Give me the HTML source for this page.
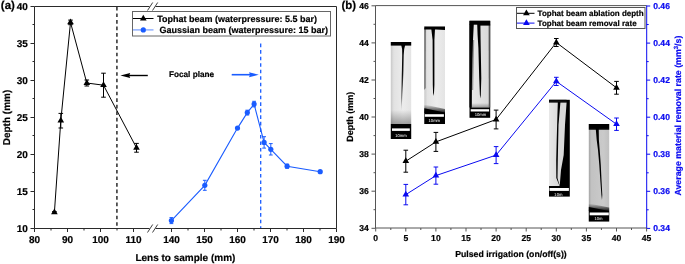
<!DOCTYPE html>
<html><head><meta charset="utf-8"><style>
html,body{margin:0;padding:0;background:#fff;width:685px;height:264px;overflow:hidden}
text{stroke:#000;stroke-width:0.2px}
text.bl{stroke:#0a0af0}
text.w{stroke:none}
</style></head><body>
<svg width="685" height="264" viewBox="0 0 685 264" style="position:absolute;left:0;top:0;will-change:transform"><g font-family='"Liberation Sans", sans-serif' font-weight="bold" text-rendering="geometricPrecision"><path d="M34.5 6.5H149.5M155.5 6.5H336.5V228.5H155.5M149.5 228.5H34.5V6.5" fill="none" stroke="#2a2a2a" stroke-width="1"/><line x1="147.5" y1="10.5" x2="152.7" y2="2.5" stroke="#2a2a2a" stroke-width="0.9"/><line x1="152.5" y1="10.5" x2="157.7" y2="2.5" stroke="#2a2a2a" stroke-width="0.9"/><line x1="147.5" y1="232.5" x2="152.7" y2="224.5" stroke="#2a2a2a" stroke-width="0.9"/><line x1="152.5" y1="232.5" x2="157.7" y2="224.5" stroke="#2a2a2a" stroke-width="0.9"/><line x1="30.5" y1="228.5" x2="34.5" y2="228.5" stroke="#2a2a2a"/><text x="27.8" y="231.7" font-size="10" text-anchor="end">10</text><line x1="30.5" y1="191.5" x2="34.5" y2="191.5" stroke="#2a2a2a"/><text x="27.8" y="194.7" font-size="10" text-anchor="end">15</text><line x1="30.5" y1="154.5" x2="34.5" y2="154.5" stroke="#2a2a2a"/><text x="27.8" y="157.7" font-size="10" text-anchor="end">20</text><line x1="30.5" y1="117.5" x2="34.5" y2="117.5" stroke="#2a2a2a"/><text x="27.8" y="120.7" font-size="10" text-anchor="end">25</text><line x1="30.5" y1="80.5" x2="34.5" y2="80.5" stroke="#2a2a2a"/><text x="27.8" y="83.7" font-size="10" text-anchor="end">30</text><line x1="30.5" y1="43.5" x2="34.5" y2="43.5" stroke="#2a2a2a"/><text x="27.8" y="46.7" font-size="10" text-anchor="end">35</text><line x1="30.5" y1="6.5" x2="34.5" y2="6.5" stroke="#2a2a2a"/><text x="27.8" y="9.7" font-size="10" text-anchor="end">40</text><line x1="32.5" y1="209.5" x2="34.5" y2="209.5" stroke="#2a2a2a"/><line x1="32.5" y1="172.5" x2="34.5" y2="172.5" stroke="#2a2a2a"/><line x1="32.5" y1="135.5" x2="34.5" y2="135.5" stroke="#2a2a2a"/><line x1="32.5" y1="98.5" x2="34.5" y2="98.5" stroke="#2a2a2a"/><line x1="32.5" y1="61.5" x2="34.5" y2="61.5" stroke="#2a2a2a"/><line x1="32.5" y1="24.5" x2="34.5" y2="24.5" stroke="#2a2a2a"/><line x1="34.5" y1="228.5" x2="34.5" y2="232.0" stroke="#2a2a2a"/><text x="34.5" y="242.8" font-size="10" text-anchor="middle">80</text><line x1="67.5" y1="228.5" x2="67.5" y2="232.0" stroke="#2a2a2a"/><text x="67.5" y="242.8" font-size="10" text-anchor="middle">90</text><line x1="100.5" y1="228.5" x2="100.5" y2="232.0" stroke="#2a2a2a"/><text x="100.5" y="242.8" font-size="10" text-anchor="middle">100</text><line x1="133.5" y1="228.5" x2="133.5" y2="232.0" stroke="#2a2a2a"/><text x="133.5" y="242.8" font-size="10" text-anchor="middle">110</text><line x1="171.5" y1="228.5" x2="171.5" y2="232.0" stroke="#2a2a2a"/><text x="171.5" y="242.8" font-size="10" text-anchor="middle">140</text><line x1="204.5" y1="228.5" x2="204.5" y2="232.0" stroke="#2a2a2a"/><text x="204.5" y="242.8" font-size="10" text-anchor="middle">150</text><line x1="237.5" y1="228.5" x2="237.5" y2="232.0" stroke="#2a2a2a"/><text x="237.5" y="242.8" font-size="10" text-anchor="middle">160</text><line x1="270.5" y1="228.5" x2="270.5" y2="232.0" stroke="#2a2a2a"/><text x="270.5" y="242.8" font-size="10" text-anchor="middle">170</text><line x1="303.5" y1="228.5" x2="303.5" y2="232.0" stroke="#2a2a2a"/><text x="303.5" y="242.8" font-size="10" text-anchor="middle">180</text><line x1="336.5" y1="228.5" x2="336.5" y2="232.0" stroke="#2a2a2a"/><text x="336.5" y="242.8" font-size="10" text-anchor="middle">190</text><line x1="51.0" y1="228.5" x2="51.0" y2="230.5" stroke="#2a2a2a"/><line x1="84.0" y1="228.5" x2="84.0" y2="230.5" stroke="#2a2a2a"/><line x1="117.0" y1="228.5" x2="117.0" y2="230.5" stroke="#2a2a2a"/><line x1="188.0" y1="228.5" x2="188.0" y2="230.5" stroke="#2a2a2a"/><line x1="221.0" y1="228.5" x2="221.0" y2="230.5" stroke="#2a2a2a"/><line x1="254.0" y1="228.5" x2="254.0" y2="230.5" stroke="#2a2a2a"/><line x1="287.0" y1="228.5" x2="287.0" y2="230.5" stroke="#2a2a2a"/><line x1="320.0" y1="228.5" x2="320.0" y2="230.5" stroke="#2a2a2a"/><text x="0.8" y="9.4" font-size="11.5">(a)</text><text x="185.4" y="260.7" font-size="10" text-anchor="middle">Lens to sample (mm)</text><text transform="translate(10.2 117.5) rotate(-90)" font-size="10" text-anchor="middle">Depth (mm)</text><line x1="116.9" y1="7" x2="116.9" y2="228" stroke="#444" stroke-width="1.7" stroke-dasharray="3.6 2.92"/><line x1="260.7" y1="43.6" x2="260.7" y2="228" stroke="#1a5cff" stroke-width="1.3" stroke-dasharray="3.6 2.92"/><line x1="128" y1="75.5" x2="147.8" y2="75.5" stroke="#000" stroke-width="1.4"/><path d="M120.4 75.5 L130.2 73 L129.2 75.5 L130.2 78 Z" fill="#000"/><line x1="231.7" y1="74.7" x2="251" y2="74.7" stroke="#1a5cff" stroke-width="1.6"/><path d="M258.8 74.7 L249 72.2 L250 74.7 L249 77.2 Z" fill="#1a5cff"/><text x="169" y="77.3" font-size="8.2">Focal plane</text><polyline points="54.4,212.4 60.8,120.7 70.5,22.4 86.8,83 103.5,85.2 136.5,147.8" fill="none" stroke="#000" stroke-width="1"/><path d="M54.40 211.60V213.20M52.10 211.60H56.70M52.10 213.20H56.70" stroke="#000" stroke-width="1" fill="none"/><path d="M54.40 208.55L57.73 214.33L51.07 214.33Z" fill="#000"/><path d="M60.80 113.40V128.00M58.50 113.40H63.10M58.50 128.00H63.10" stroke="#000" stroke-width="1" fill="none"/><path d="M60.80 116.85L64.13 122.62L57.47 122.62Z" fill="#000"/><path d="M70.50 20.10V24.70M68.20 20.10H72.80M68.20 24.70H72.80" stroke="#000" stroke-width="1" fill="none"/><path d="M70.50 18.55L73.83 24.32L67.17 24.32Z" fill="#000"/><path d="M86.80 80.00V86.00M84.50 80.00H89.10M84.50 86.00H89.10" stroke="#000" stroke-width="1" fill="none"/><path d="M86.80 79.15L90.13 84.92L83.47 84.92Z" fill="#000"/><path d="M103.50 73.20V97.20M101.20 73.20H105.80M101.20 97.20H105.80" stroke="#000" stroke-width="1" fill="none"/><path d="M103.50 81.35L106.83 87.12L100.17 87.12Z" fill="#000"/><path d="M136.50 143.40V152.20M134.20 143.40H138.80M134.20 152.20H138.80" stroke="#000" stroke-width="1" fill="none"/><path d="M136.50 143.95L139.83 149.73L133.17 149.73Z" fill="#000"/><polyline points="171.4,220.6 204.8,185.3 237.5,128.1 247.3,112.6 254.1,104.1 264.1,142.4 270.8,149.3 287.1,166.2 320.2,171.7" fill="none" stroke="#1a5cff" stroke-width="1.1"/><path d="M171.40 217.60V223.60M169.50 217.60H173.30M169.50 223.60H173.30" stroke="#1a5cff" stroke-width="1" fill="none"/><circle cx="171.4" cy="220.6" r="2.6" fill="#1a5cff"/><path d="M204.80 180.30V190.30M202.90 180.30H206.70M202.90 190.30H206.70" stroke="#1a5cff" stroke-width="1" fill="none"/><circle cx="204.8" cy="185.3" r="2.6" fill="#1a5cff"/><circle cx="237.5" cy="128.1" r="2.6" fill="#1a5cff"/><path d="M247.30 110.20V115.00M245.40 110.20H249.20M245.40 115.00H249.20" stroke="#1a5cff" stroke-width="1" fill="none"/><circle cx="247.3" cy="112.6" r="2.6" fill="#1a5cff"/><path d="M254.10 101.30V106.90M252.20 101.30H256.00M252.20 106.90H256.00" stroke="#1a5cff" stroke-width="1" fill="none"/><circle cx="254.1" cy="104.1" r="2.6" fill="#1a5cff"/><path d="M264.10 136.70V148.10M262.20 136.70H266.00M262.20 148.10H266.00" stroke="#1a5cff" stroke-width="1" fill="none"/><circle cx="264.1" cy="142.4" r="2.6" fill="#1a5cff"/><path d="M270.80 143.60V155.00M268.90 143.60H272.70M268.90 155.00H272.70" stroke="#1a5cff" stroke-width="1" fill="none"/><circle cx="270.8" cy="149.3" r="2.6" fill="#1a5cff"/><path d="M287.10 164.20V168.20M285.20 164.20H289.00M285.20 168.20H289.00" stroke="#1a5cff" stroke-width="1" fill="none"/><circle cx="287.1" cy="166.2" r="2.6" fill="#1a5cff"/><path d="M320.20 171.20V172.20M318.30 171.20H322.10M318.30 172.20H322.10" stroke="#1a5cff" stroke-width="1" fill="none"/><circle cx="320.2" cy="171.7" r="2.6" fill="#1a5cff"/><rect x="132.5" y="11.5" width="198" height="24.5" fill="#fff" stroke="#666" stroke-width="1"/><line x1="133" y1="18.5" x2="153.5" y2="18.5" stroke="#000"/><path d="M143.30 14.65L146.63 20.43L139.97 20.43Z" fill="#000"/><text x="157.2" y="21.7" font-size="9">Tophat beam (waterpressure: 5.5 bar)</text><line x1="133" y1="29.9" x2="153.5" y2="29.9" stroke="#1a5cff" stroke-opacity="0.6" stroke-width="1.2"/><circle cx="143.3" cy="29.9" r="2.6" fill="#1a5cff"/><text x="159.4" y="33.1" font-size="9">Gaussian beam (waterpressure: 15 bar)</text><path d="M375.5 5.6H646.7M646.7 228.0H375.5V5.6" fill="none" stroke="#555" stroke-width="1"/><line x1="646.7" y1="5.6" x2="646.7" y2="228.0" stroke="#0a0af0" stroke-width="1"/><line x1="371.5" y1="228.3" x2="375.5" y2="228.3" stroke="#555"/><text x="368.8" y="231.2" font-size="8.6" text-anchor="end">34</text><line x1="371.5" y1="191.2" x2="375.5" y2="191.2" stroke="#555"/><text x="368.8" y="194.1" font-size="8.6" text-anchor="end">36</text><line x1="371.5" y1="154.1" x2="375.5" y2="154.1" stroke="#555"/><text x="368.8" y="157.0" font-size="8.6" text-anchor="end">38</text><line x1="371.5" y1="117.0" x2="375.5" y2="117.0" stroke="#555"/><text x="368.8" y="119.9" font-size="8.6" text-anchor="end">40</text><line x1="371.5" y1="80.0" x2="375.5" y2="80.0" stroke="#555"/><text x="368.8" y="82.9" font-size="8.6" text-anchor="end">42</text><line x1="371.5" y1="42.9" x2="375.5" y2="42.9" stroke="#555"/><text x="368.8" y="45.8" font-size="8.6" text-anchor="end">44</text><line x1="371.5" y1="5.8" x2="375.5" y2="5.8" stroke="#555"/><text x="368.8" y="8.7" font-size="8.6" text-anchor="end">46</text><line x1="373.5" y1="209.7" x2="375.5" y2="209.7" stroke="#555"/><line x1="373.5" y1="172.7" x2="375.5" y2="172.7" stroke="#555"/><line x1="373.5" y1="135.6" x2="375.5" y2="135.6" stroke="#555"/><line x1="373.5" y1="98.5" x2="375.5" y2="98.5" stroke="#555"/><line x1="373.5" y1="61.4" x2="375.5" y2="61.4" stroke="#555"/><line x1="373.5" y1="24.3" x2="375.5" y2="24.3" stroke="#555"/><line x1="646.7" y1="228.4" x2="650.2" y2="228.4" stroke="#0a0af0"/><text x="653.2" y="231.3" font-size="8.6" fill="#0a0af0" class="bl">0.34</text><line x1="646.7" y1="191.3" x2="650.2" y2="191.3" stroke="#0a0af0"/><text x="653.2" y="194.2" font-size="8.6" fill="#0a0af0" class="bl">0.36</text><line x1="646.7" y1="154.2" x2="650.2" y2="154.2" stroke="#0a0af0"/><text x="653.2" y="157.1" font-size="8.6" fill="#0a0af0" class="bl">0.38</text><line x1="646.7" y1="117.2" x2="650.2" y2="117.2" stroke="#0a0af0"/><text x="653.2" y="120.1" font-size="8.6" fill="#0a0af0" class="bl">0.40</text><line x1="646.7" y1="80.1" x2="650.2" y2="80.1" stroke="#0a0af0"/><text x="653.2" y="83.0" font-size="8.6" fill="#0a0af0" class="bl">0.42</text><line x1="646.7" y1="43.1" x2="650.2" y2="43.1" stroke="#0a0af0"/><text x="653.2" y="46.0" font-size="8.6" fill="#0a0af0" class="bl">0.44</text><line x1="646.7" y1="6.0" x2="650.2" y2="6.0" stroke="#0a0af0"/><text x="653.2" y="8.9" font-size="8.6" fill="#0a0af0" class="bl">0.46</text><line x1="646.7" y1="209.8" x2="648.7" y2="209.8" stroke="#0a0af0"/><line x1="646.7" y1="172.8" x2="648.7" y2="172.8" stroke="#0a0af0"/><line x1="646.7" y1="135.7" x2="648.7" y2="135.7" stroke="#0a0af0"/><line x1="646.7" y1="98.7" x2="648.7" y2="98.7" stroke="#0a0af0"/><line x1="646.7" y1="61.6" x2="648.7" y2="61.6" stroke="#0a0af0"/><line x1="646.7" y1="24.5" x2="648.7" y2="24.5" stroke="#0a0af0"/><line x1="375.7" y1="228.0" x2="375.7" y2="231.5" stroke="#555"/><text x="375.7" y="241" font-size="8.6" text-anchor="middle">0</text><line x1="405.8" y1="228.0" x2="405.8" y2="231.5" stroke="#555"/><text x="405.8" y="241" font-size="8.6" text-anchor="middle">5</text><line x1="435.9" y1="228.0" x2="435.9" y2="231.5" stroke="#555"/><text x="435.9" y="241" font-size="8.6" text-anchor="middle">10</text><line x1="466.0" y1="228.0" x2="466.0" y2="231.5" stroke="#555"/><text x="466.0" y="241" font-size="8.6" text-anchor="middle">15</text><line x1="496.1" y1="228.0" x2="496.1" y2="231.5" stroke="#555"/><text x="496.1" y="241" font-size="8.6" text-anchor="middle">20</text><line x1="526.2" y1="228.0" x2="526.2" y2="231.5" stroke="#555"/><text x="526.2" y="241" font-size="8.6" text-anchor="middle">25</text><line x1="556.3" y1="228.0" x2="556.3" y2="231.5" stroke="#555"/><text x="556.3" y="241" font-size="8.6" text-anchor="middle">30</text><line x1="586.4" y1="228.0" x2="586.4" y2="231.5" stroke="#555"/><text x="586.4" y="241" font-size="8.6" text-anchor="middle">35</text><line x1="616.5" y1="228.0" x2="616.5" y2="231.5" stroke="#555"/><text x="616.5" y="241" font-size="8.6" text-anchor="middle">40</text><line x1="646.6" y1="228.0" x2="646.6" y2="231.5" stroke="#555"/><text x="646.6" y="241" font-size="8.6" text-anchor="middle">45</text><line x1="390.8" y1="228.0" x2="390.8" y2="230.0" stroke="#555"/><line x1="420.8" y1="228.0" x2="420.8" y2="230.0" stroke="#555"/><line x1="450.9" y1="228.0" x2="450.9" y2="230.0" stroke="#555"/><line x1="481.0" y1="228.0" x2="481.0" y2="230.0" stroke="#555"/><line x1="511.1" y1="228.0" x2="511.1" y2="230.0" stroke="#555"/><line x1="541.2" y1="228.0" x2="541.2" y2="230.0" stroke="#555"/><line x1="571.3" y1="228.0" x2="571.3" y2="230.0" stroke="#555"/><line x1="601.4" y1="228.0" x2="601.4" y2="230.0" stroke="#555"/><line x1="631.5" y1="228.0" x2="631.5" y2="230.0" stroke="#555"/><text x="341.5" y="9.4" font-size="11.5">(b)</text><text x="511" y="257" font-size="8.7" text-anchor="middle">Pulsed irrigation (on/off(s))</text><text transform="translate(352.6 116.8) rotate(-90)" font-size="9" text-anchor="middle">Depth (mm)</text><text transform="translate(681.4 115.6) rotate(-90)" font-size="8.8" text-anchor="middle" fill="#0a0af0" class="bl">Average material removal rate (mm<tspan font-size="6" dy="-3">3</tspan><tspan dy="3">/s)</tspan></text><defs><linearGradient id="gH1" x1="0" x2="1" y1="0" y2="0"><stop offset="0" stop-color="#c8c8c8"/><stop offset="0.15" stop-color="#e2e2e2"/><stop offset="0.6" stop-color="#ececec"/><stop offset="1" stop-color="#e4e4e4"/></linearGradient><linearGradient id="gV1" x1="0" x2="0" y1="0" y2="1"><stop offset="0" stop-color="#fff" stop-opacity="0"/><stop offset="1" stop-color="#888" stop-opacity="0.8"/></linearGradient><linearGradient id="gTop" x1="0" x2="0" y1="0" y2="1"><stop offset="0" stop-color="#000"/><stop offset="0.6" stop-color="#111"/><stop offset="1" stop-color="#000" stop-opacity="0"/></linearGradient><linearGradient id="gH5" x1="0" x2="1" y1="0" y2="0"><stop offset="0" stop-color="#a4a4a4"/><stop offset="0.12" stop-color="#c2c2c2"/><stop offset="0.7" stop-color="#cacaca"/><stop offset="1" stop-color="#c0c0c0"/></linearGradient><linearGradient id="gH4" x1="0" x2="1" y1="0" y2="0"><stop offset="0" stop-color="#e8e8e8"/><stop offset="1" stop-color="#d8d8d8"/></linearGradient><linearGradient id="gH3" x1="0" x2="1" y1="0" y2="0"><stop offset="0" stop-color="#d0d0d0"/><stop offset="1" stop-color="#e8e8e8"/></linearGradient></defs><defs><linearGradient id="cr" x1="0" x2="0" y1="0" y2="1"><stop offset="0" stop-color="#000"/><stop offset="0.45" stop-color="#111"/><stop offset="0.75" stop-color="#000" stop-opacity="0.5"/><stop offset="1" stop-color="#000" stop-opacity="0.12"/></linearGradient><linearGradient id="gB" x1="0" x2="0" y1="0" y2="1"><stop offset="0" stop-color="#000" stop-opacity="0"/><stop offset="1" stop-color="#000" stop-opacity="0.32"/></linearGradient><linearGradient id="gE" x1="0" x2="0" y1="0" y2="1"><stop offset="0" stop-color="#000" stop-opacity="0"/><stop offset="1" stop-color="#000" stop-opacity="0.9"/></linearGradient></defs><g><rect x="390.8" y="42" width="20.4" height="97" fill="url(#gH1)"/><rect x="390.8" y="110" width="20.4" height="14" fill="url(#gB)"/><rect x="390.8" y="42" width="20.4" height="3.6" fill="#000"/><path d="M401.2 45 L405.2 45 L404.2 49 L403.7 55 L403.4 70 L402.9 85 L402.2 98 L401.6 111 L401 98 L401.5 85 L401.9 70 L402.2 55 L402.1 49 Z" fill="url(#cr)"/><rect x="390.8" y="124" width="20.4" height="15" fill="#000"/><rect x="392" y="128.4" width="17.8" height="2.5" fill="#fff"/><text x="401" y="136.8" font-size="4.2" fill="#fff" class="w" font-weight="normal" text-anchor="middle">10mm</text></g><g><rect x="424.3" y="26.5" width="20.7" height="97.6" fill="url(#gH1)"/><path d="M424.3 28 L425.8 28 L425.6 88 L424.3 90Z" fill="#555" opacity="0.85"/><path d="M424.3 26.5 H445 V30 L436 29.4 H424.3Z" fill="#000"/><path d="M431.3 29 L435 29 L434.4 40 L434.4 85 L434 93 L433.6 96 L433.1 93 L432.8 85 L432.6 40Z" fill="#000"/><path d="M424.3 104.5 L445 109 V113 H424.3Z" fill="url(#gE)"/><path d="M424.3 108.2 L445 112.5 V124.1 H424.3Z" fill="#000"/><rect x="424.8" y="114.2" width="19.1" height="2.6" fill="#fff"/><text x="434.3" y="122.2" font-size="4.2" fill="#fff" class="w" font-weight="normal" text-anchor="middle">10mm</text></g><g><rect x="469.5" y="20.8" width="20.7" height="97" fill="#000"/><rect x="471.5" y="24.4" width="17.5" height="83.1" fill="url(#gH4)"/><path d="M469.5 24 L473.8 24 L473 40 L472.4 60 L471.8 90 L471.6 107.5 L469.5 107.5Z" fill="#000"/><path d="M472.4 40 L474.2 40 L473.2 90 L471.8 90Z" fill="#000" opacity="0.35"/><path d="M488.6 25 L490.2 25 L490.2 107.5 L488.8 107.5Z" fill="#555"/><path d="M477.2 24 L480.4 24 L480.6 40 L481.3 78 L480.8 95 L480.3 98.5 L479.9 95 L479.2 78 L478.4 48 L477.6 35Z" fill="#000"/><rect x="469.5" y="20.8" width="20.7" height="3.7" fill="#000"/><path d="M480 24 H490.2 V25.6 H480Z" fill="#000"/><rect x="471.5" y="103" width="17.5" height="4.5" fill="url(#gB)"/><rect x="470.7" y="109.2" width="18.4" height="2.3" fill="#fff"/><text x="480.5" y="116.3" font-size="4.2" fill="#fff" class="w" font-weight="normal" text-anchor="middle">10mm</text></g><g><rect x="549" y="99.8" width="20.8" height="96.8" fill="#000"/><path d="M549 102.4 L557.8 102.4 L556.7 140 L556.2 160 L556.3 178 L559.6 186 L549 186Z" fill="url(#gH4)"/><path d="M560.4 102.4 L566.6 102.4 L565 125 L563.7 155 L561 170 L559.7 186 L557.5 178 L557.8 160 L558.5 125Z" fill="#dadada"/><rect x="549" y="99.8" width="17.6" height="3" fill="url(#gTop)"/><rect x="549.5" y="188" width="19.4" height="2.9" fill="#fff"/><text x="558.4" y="195.8" font-size="4.2" fill="#fff" class="w" font-weight="normal" text-anchor="middle">10m</text></g><g><rect x="588.8" y="124" width="20.4" height="97.6" fill="url(#gH5)"/><rect x="588.8" y="124" width="20.4" height="4" fill="#000"/><path d="M588.8 127.9 H609.2 V130.2 H588.8Z" fill="url(#gTop)"/><path d="M595.6 127 L598.7 127 L598.9 140 L599.7 150 L600.8 165 L601.5 180 L602.3 195 L602 200 L601.4 195 L600.3 180 L599.3 165 L598 150 L596.7 140Z" fill="#000"/><path d="M588.8 203.5 L609.2 207.5 V211 H588.8Z" fill="url(#gE)"/><path d="M588.8 207 L609.2 211 V221.6 H588.8Z" fill="#000"/><rect x="589.7" y="212.5" width="19.1" height="2.8" fill="#fff"/><text x="598.5" y="220.2" font-size="4.2" fill="#fff" class="w" font-weight="normal" text-anchor="middle">10m</text></g><polyline points="405.8,161.2 435.9,141.9 496.1,119.5 556.3,42.5 616.5,87.8" fill="none" stroke="#000" stroke-width="1"/><path d="M405.80 150.20V172.20M403.50 150.20H408.10M403.50 172.20H408.10" stroke="#000" stroke-width="1" fill="none"/><path d="M405.80 157.35L409.13 163.12L402.47 163.12Z" fill="#000"/><path d="M435.90 132.40V151.40M433.60 132.40H438.20M433.60 151.40H438.20" stroke="#000" stroke-width="1" fill="none"/><path d="M435.90 138.05L439.23 143.83L432.57 143.83Z" fill="#000"/><path d="M496.10 110.10V128.90M493.80 110.10H498.40M493.80 128.90H498.40" stroke="#000" stroke-width="1" fill="none"/><path d="M496.10 115.65L499.43 121.42L492.77 121.42Z" fill="#000"/><path d="M556.30 38.50V46.50M554.00 38.50H558.60M554.00 46.50H558.60" stroke="#000" stroke-width="1" fill="none"/><path d="M556.30 38.65L559.63 44.42L552.97 44.42Z" fill="#000"/><path d="M616.50 81.40V94.20M614.20 81.40H618.80M614.20 94.20H618.80" stroke="#000" stroke-width="1" fill="none"/><path d="M616.50 83.95L619.83 89.72L613.17 89.72Z" fill="#000"/><polyline points="405.8,194.6 435.9,175.6 496.1,155.1 556.3,81.4 616.5,124.2" fill="none" stroke="#0a0af0" stroke-width="1"/><path d="M405.80 184.40V204.80M403.50 184.40H408.10M403.50 204.80H408.10" stroke="#0a0af0" stroke-width="1" fill="none"/><path d="M405.80 190.75L409.13 196.53L402.47 196.53Z" fill="#0a0af0"/><path d="M435.90 167.00V184.20M433.60 167.00H438.20M433.60 184.20H438.20" stroke="#0a0af0" stroke-width="1" fill="none"/><path d="M435.90 171.75L439.23 177.53L432.57 177.53Z" fill="#0a0af0"/><path d="M496.10 146.60V163.60M493.80 146.60H498.40M493.80 163.60H498.40" stroke="#0a0af0" stroke-width="1" fill="none"/><path d="M496.10 151.25L499.43 157.03L492.77 157.03Z" fill="#0a0af0"/><path d="M556.30 77.30V85.50M554.00 77.30H558.60M554.00 85.50H558.60" stroke="#0a0af0" stroke-width="1" fill="none"/><path d="M556.30 77.55L559.63 83.33L552.97 83.33Z" fill="#0a0af0"/><path d="M616.50 118.00V130.40M614.20 118.00H618.80M614.20 130.40H618.80" stroke="#0a0af0" stroke-width="1" fill="none"/><path d="M616.50 120.35L619.83 126.12L613.17 126.12Z" fill="#0a0af0"/><rect x="516.5" y="7.5" width="128.5" height="21" fill="#fff" stroke="#555" stroke-width="1"/><line x1="517" y1="13.3" x2="534.5" y2="13.3" stroke="#000"/><path d="M526.40 9.45L529.73 15.23L523.07 15.23Z" fill="#000"/><text x="537.6" y="16.2" font-size="8">Tophat beam ablation depth</text><line x1="517" y1="23.1" x2="534.5" y2="23.1" stroke="#0a0af0"/><path d="M526.40 19.25L529.73 25.03L523.07 25.03Z" fill="#0a0af0"/><text x="537.6" y="26" font-size="8">Tophat beam removal rate</text></g></svg>
</body></html>
